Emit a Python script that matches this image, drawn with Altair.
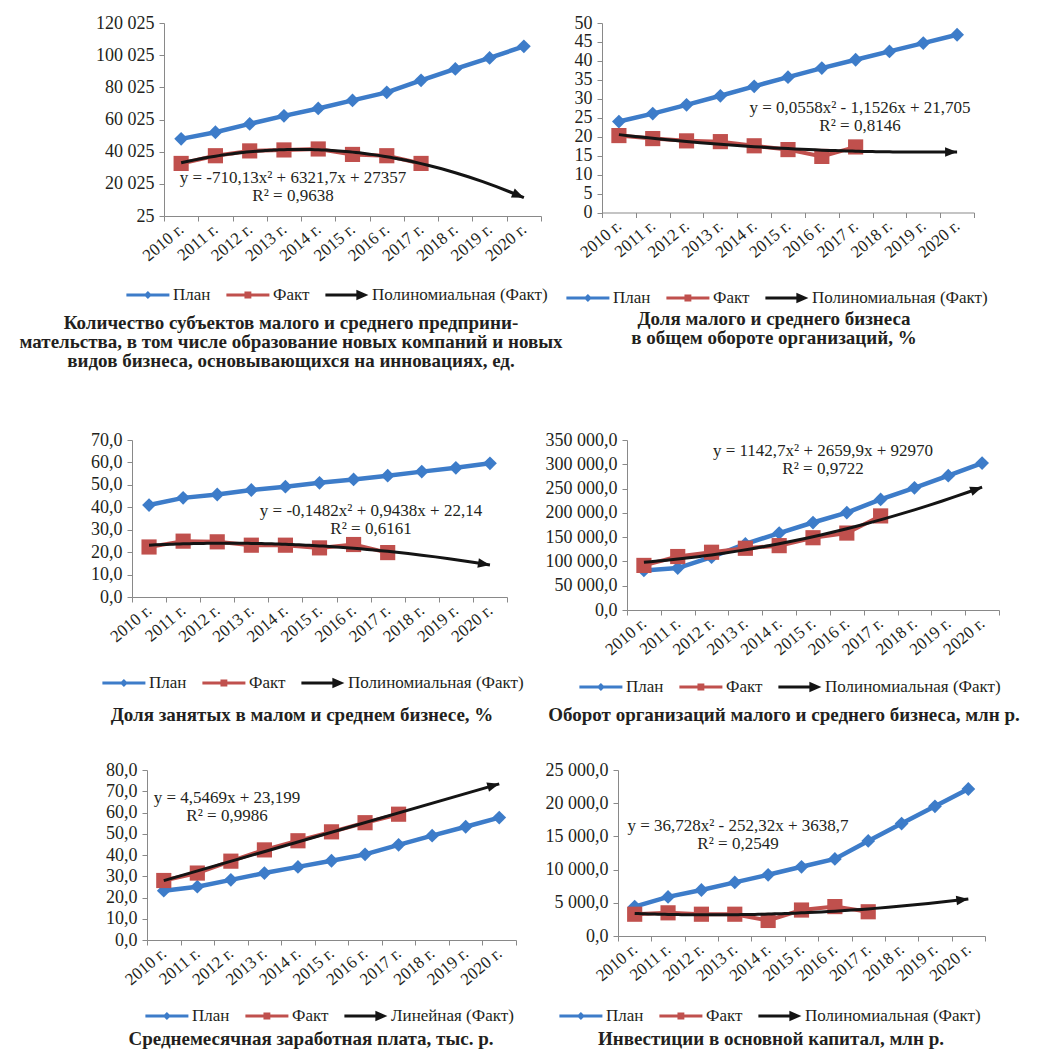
import json
import altair as alt
import pandas as pd

YEARS = ["2010 г.", "2011 г.", "2012 г.", "2013 г.", "2014 г.", "2015 г.",
         "2016 г.", "2017 г.", "2018 г.", "2019 г.", "2020 г."]

P1_PLAN = [48000, 52100, 57300, 62300, 66900, 71900, 76900, 84400, 91500, 98300, 105500]
P1_FACT = [32700, 37500, 40500, 41100, 41700, 38300, 37500, 32700]
P2_PLAN = [24.0, 26.1, 28.4, 30.8, 33.3, 35.7, 38.1, 40.3, 42.5, 44.7, 46.9]
P2_FACT = [20.3, 19.5, 18.9, 18.7, 17.6, 16.6, 14.8, 17.3]
P3_PLAN = [41.0, 44.2, 45.7, 47.7, 49.2, 50.9, 52.4, 54.1, 55.9, 57.6, 59.6]
P3_FACT = [22.3, 24.9, 24.6, 23.1, 23.1, 21.9, 23.4, 19.8]
P4_PLAN = [81500, 86300, 108700, 135900, 158400, 180100, 200500, 227700, 251500, 276600, 302400]
P4_FACT = [91800, 110100, 118900, 127100, 132500, 148800, 158400, 193700]
P5_PLAN = [23.2, 25.1, 28.3, 31.5, 34.4, 37.3, 40.3, 44.8, 49.1, 53.3, 57.6]
P5_FACT = [28.0, 31.5, 37.1, 42.4, 46.7, 50.9, 55.2, 59.2]
P6_PLAN = [4430, 5890, 6930, 8070, 9220, 10420, 11610, 14320, 16930, 19530, 22140]
P6_FACT = [3280, 3490, 3280, 3280, 2340, 3910, 4430, 3650]

P1_TICKS = [25, 20025, 40025, 60025, 80025, 100025, 120025]
P2_TICKS = [0, 5, 10, 15, 20, 25, 30, 35, 40, 45, 50]
P3_TICKS = [0, 10, 20, 30, 40, 50, 60, 70]
P4_TICKS = [0, 50000, 100000, 150000, 200000, 250000, 300000, 350000]
P5_TICKS = [0, 10, 20, 30, 40, 50, 60, 70, 80]
P6_TICKS = [0, 5000, 10000, 15000, 20000, 25000]

P1_EQ = ["y = -710,13x² + 6321,7x + 27357", "R² = 0,9638"]
P2_EQ = ["y = 0,0558x² - 1,1526x + 21,705", "R² = 0,8146"]
P3_EQ = ["y = -0,1482x² + 0,9438x + 22,14", "R² = 0,6161"]
P4_EQ = ["y = 1142,7x² + 2659,9x + 92970", "R² = 0,9722"]
P5_EQ = ["y = 4,5469x + 23,199", "R² = 0,9986"]
P6_EQ = ["y = 36,728x² - 252,32x + 3638,7", "R² = 0,2549"]

P1_TITLE = ["Количество субъектов малого и среднего предприни-",
            "мательства, в том числе образование новых компаний и новых",
            "видов бизнеса, основывающихся на инновациях, ед."]
P2_TITLE = ["Доля малого и среднего бизнеса", "в общем обороте организаций, %"]
P3_TITLE = ["Доля занятых в малом и среднем бизнесе, %"]
P4_TITLE = ["Оборот организаций малого и среднего бизнеса, млн р."]
P5_TITLE = ["Среднемесячная заработная плата, тыс. р."]
P6_TITLE = ["Инвестиции в основной капитал, млн р."]

SERIES_POLY = ["План", "Факт", "Полиномиальная (Факт)"]
SERIES_LIN = ["План", "Факт", "Линейная (Факт)"]

SERIF = "'Liberation Serif', 'Times New Roman', Times, serif"
TEXT = "#231f20"
AXIS = "#898989"
BLUE = "#3d7cc9"
RED = "#c0504d"
BLACK = "#141414"

PATH_DIAMOND = ("M-1,-0.175L1.205,-0.175L1.5,-0.47L1.795,-0.175L4,-0.175L4,0.175"
                "L1.795,0.175L1.5,0.47L1.205,0.175L-1,0.175Z")
PATH_SQUARE = ("M-1,-0.175L1.1,-0.175L1.1,-0.42L1.9,-0.42L1.9,-0.175L4,-0.175L4,0.175"
               "L1.9,0.175L1.9,0.42L1.1,0.42L1.1,0.175L-1,0.175Z")
PATH_ARROW = "M-1,-0.175L2.6,-0.175L2.6,-0.6L4,0L2.6,0.6L2.6,0.175L-1,0.175Z"
ARROW_HEAD = "M1,0L-1,-0.8L-1,0.8Z"

YEARS_JS = json.dumps(YEARS, ensure_ascii=False)
ONE = pd.DataFrame({"d": [0]})


def spacer(w):
    return alt.Chart(ONE).mark_point(opacity=0, size=1).encode(
        x=alt.value(0), y=alt.value(0)).properties(width=w, height=1)


def panel(plan, fact, ticks, yfmt, W, H, method, eq, eq_xy, title, title_xy,
          series, leg_xy, top_mark=None):
    ydom = [ticks[0], ticks[-1]]
    xaxis = alt.Axis(
        values=[k + 0.5 for k in range(12)],
        labelExpr=f"datum.value < 11 ? {YEARS_JS}[round(datum.value - 0.5)] : ''",
        labelOffset=W / 22, labelAngle=-40, labelAlign="right", labelBaseline="middle",
        labelPadding=6, labelFontSize=17, tickSize=5, grid=False, labelOverlap=False,
        labelBound=False, labelFlush=False, title=None)
    yaxis = alt.Axis(values=ticks, format=yfmt, tickSize=5, grid=False, labelPadding=5,
                     labelFontSize=18, title=None, labelOverlap=False)
    X = alt.X("i:Q", scale=alt.Scale(domain=[0.5, 11.5], nice=False, zero=False), axis=xaxis)
    Y = alt.Y("v:Q", scale=alt.Scale(domain=ydom, nice=False, zero=False), axis=yaxis)

    dplan = pd.DataFrame({"i": list(range(1, len(plan) + 1)), "v": plan})
    dfact = pd.DataFrame({"i": list(range(1, len(fact) + 1)), "v": fact})

    plan_line = alt.Chart(dplan).mark_line(color=BLUE, strokeWidth=4.5).encode(x=X, y=Y)
    plan_pts = alt.Chart(dplan).mark_point(shape="diamond", filled=True, size=190,
                                           color=BLUE, opacity=1).encode(x=X, y=Y)
    fact_line = alt.Chart(dfact).mark_line(color=RED, strokeWidth=4).encode(x=X, y=Y)
    fact_pts = alt.Chart(dfact).mark_point(shape="square", filled=True, size=230,
                                           color=RED, opacity=1).encode(x=X, y=Y)

    if method == "poly":
        reg = dict(method="poly", order=2)
    else:
        reg = dict(method="linear")
    trend = alt.Chart(dfact).transform_regression(
        "i", "v", extent=[1, 11], **reg).mark_line(color=BLACK, strokeWidth=3).encode(x=X, y=Y)

    ppx = W / 11.0
    ppy = H / float(ydom[1] - ydom[0])
    r = 6.0
    arrow = (alt.Chart(dfact)
             .transform_regression("i", "v", params=True, **reg)
             .transform_calculate(c2="length(datum.coef) > 2 ? datum.coef[2] : 0")
             .transform_calculate(y11="datum.coef[0] + datum.coef[1]*11 + datum.c2*121")
             .transform_calculate(a=f"atan((datum.coef[1] + 22*datum.c2)*{ppy}/{ppx})")
             .transform_calculate(i=f"11 - {r}*cos(datum.a)/{ppx}")
             .transform_calculate(v=f"datum.y11 - {r}*sin(datum.a)/{ppy}")
             .transform_calculate(ang="-datum.a*180/PI")
             .mark_point(shape=ARROW_HEAD, filled=True, size=144, color=BLACK, opacity=1,
                         strokeWidth=0)
             .encode(x=X, y=Y, angle=alt.Angle("ang:Q", scale=None)))

    eq_text = alt.Chart(ONE).mark_text(
        align="center", baseline="top", font=SERIF, fontSize=17, lineHeight=18,
        color=TEXT).encode(x=alt.value(eq_xy[0]), y=alt.value(eq_xy[1]), text=alt.value(eq))
    title_text = alt.Chart(ONE).mark_text(
        align="center", baseline="top", font=SERIF, fontSize=19, fontWeight="bold",
        lineHeight=19, color=TEXT).encode(
        x=alt.value(title_xy[0]), y=alt.value(title_xy[1]), text=alt.value(title))

    leg = alt.Legend(orient="none", legendX=leg_xy[0], legendY=leg_xy[1],
                     direction="horizontal", title=None, symbolSize=296, symbolOpacity=1,
                     symbolStrokeWidth=0, labelOffset=29, columnPadding=15,
                     labelFont=SERIF, labelFontSize=17, labelColor=TEXT, labelLimit=400)
    dleg = pd.DataFrame({"s": series})
    legend_layer = alt.Chart(dleg).mark_point(filled=True, opacity=0).encode(
        x=alt.value(0), y=alt.value(0),
        color=alt.Color("s:N", scale=alt.Scale(domain=series, range=[BLUE, RED, BLACK]),
                        legend=leg),
        shape=alt.Shape("s:N", scale=alt.Scale(domain=series,
                                               range=[PATH_DIAMOND, PATH_SQUARE, PATH_ARROW]),
                        legend=leg))

    layers = [plan_line, plan_pts, fact_line, fact_pts, trend, arrow,
              eq_text, title_text, legend_layer]
    if top_mark is not None:
        layers.append(alt.Chart(ONE).mark_point(opacity=0, size=1).encode(
            x=alt.value(0), y=alt.value(top_mark)))
    return alt.layer(*layers).properties(width=W, height=H)


p1 = panel(P1_PLAN, P1_FACT, P1_TICKS, ",d", 377, 193, "poly", P1_EQ, (129, 147),
           P1_TITLE, (127, 291), SERIES_POLY, (-38, 263))
p2 = panel(P2_PLAN, P2_FACT, P2_TICKS, "d", 372, 189.5, "poly", P2_EQ, (258, 76.7),
           P2_TITLE, (172, 287), SERIES_POLY, (-36, 266))
p3 = panel(P3_PLAN, P3_FACT, P3_TICKS, ".1f", 375, 157, "poly", P3_EQ, (239, 62.8),
           P3_TITLE, (170, 265.5), SERIES_POLY, (-30, 234), top_mark=-32)
p4 = panel(P4_PLAN, P4_FACT, P4_TICKS, ",.1f", 372, 170, "poly", P4_EQ, (196, 2.8),
           P4_TITLE, (157, 265.5), SERIES_POLY, (-48, 238))
p5 = panel(P5_PLAN, P5_FACT, P5_TICKS, ".1f", 369, 170, "linear", P5_EQ, (80, 19.5),
           P5_TITLE, (164, 260), SERIES_LIN, (-2, 237))
p6 = panel(P6_PLAN, P6_FACT, P6_TICKS, ",.1f", 367, 166, "poly", P6_EQ, (120, 47.8),
           P6_TITLE, (153, 260), SERIES_POLY, (-59, 237))

ind = dict(color="independent", shape="independent")
row1 = alt.hconcat(spacer(150), p1, spacer(61), p2, spacing=0, bounds="flush").resolve_scale(**ind)
row2 = alt.hconcat(spacer(118), p3, spacer(120), p4, spacing=0, bounds="flush").resolve_scale(**ind)
row3 = alt.hconcat(spacer(133), p5, spacer(102), p6, spacing=0, bounds="flush").resolve_scale(**ind)

chart = (alt.vconcat(row1, row2, row3, spacing=36)
         .resolve_scale(**ind)
         .properties(padding={"left": 5, "top": 6, "right": 5, "bottom": 0})
         .configure(locale={"number": {"decimal": ",", "thousands": "\u00a0",
                                       "grouping": [3], "currency": ["", ""]}})
         .configure_view(stroke=None)
         .configure_axis(labelFont=SERIF, labelFontSize=15, labelColor=TEXT,
                         domainColor=AXIS, tickColor=AXIS, domainWidth=1, tickWidth=1))

chart.save("out.html", embed_options={"renderer": "svg", "actions": False})
